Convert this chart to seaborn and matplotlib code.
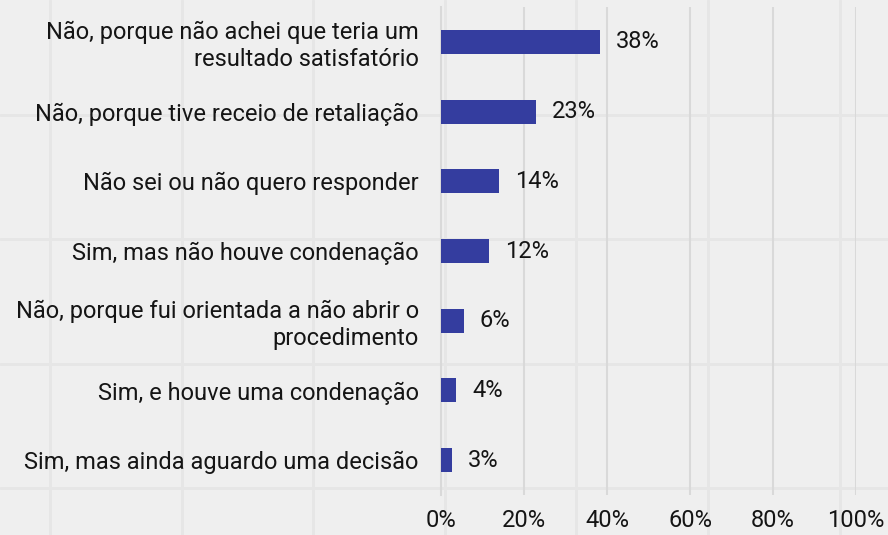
import matplotlib
matplotlib.use("Agg")
import matplotlib.pyplot as plt
import seaborn as sns
import pandas as pd
import numpy as np
from matplotlib.lines import Line2D

categories = [
    "Não, porque não achei que teria um\nresultado satisfatório",
    "Não, porque tive receio de retaliação",
    "Não sei ou não quero responder",
    "Sim, mas não houve condenação",
    "Não, porque fui orientada a não abrir o\nprocedimento",
    "Sim, e houve uma condenação",
    "Sim, mas ainda aguardo uma decisão",
]
values = [38.3, 22.9, 14, 11.5, 5.5, 3.7, 2.6]
value_labels = ["38%", "23%", "14%", "12%", "6%", "4%", "3%"]
xticks = [0, 20, 40, 60, 80, 100]
xtick_labels = ["0%", "20%", "40%", "60%", "80%", "100%"]

df = pd.DataFrame({"cat": categories, "val": values})

sns.set_theme(style="white")
plt.rcParams["font.family"] = ["Roboto", "DejaVu Sans"]

FS = 17
BG = "#efefef"
TXT = "#151515"
fig = plt.figure(figsize=(8.88, 5.35), dpi=100, facecolor=BG)
ax = fig.add_axes([441 / 888, 1 - 495 / 535, (856 - 441) / 888, (495 - 7) / 535])
ax.set_facecolor("none")

# faint background pattern of the page
for xp in np.arange(50, 888, 131.6):
    fig.add_artist(Line2D([xp / 888, xp / 888], [0, 1], transform=fig.transFigure,
                          color="#e6e6e6", lw=2, zorder=-5))
for yp in np.arange(115, 535, 124.4):
    fig.add_artist(Line2D([0, 1], [1 - yp / 535, 1 - yp / 535], transform=fig.transFigure,
                          color="#e6e6e6", lw=2, zorder=-5))

sns.barplot(data=df, y="cat", x="val", orient="h", color="#343d9f", width=0.345,
            saturation=1, linewidth=0, ax=ax, zorder=3)

ax.set_xlim(0, 100)
ax.set_ylim(6.5, -0.5)
ax.set_xticks(xticks)
ax.set_xticklabels(xtick_labels)
ax.xaxis.grid(True, color="#d9d9d9", lw=1.5, zorder=0)
ax.yaxis.grid(False)
for s in ["top", "right", "bottom"]:
    ax.spines[s].set_visible(False)
ax.spines["left"].set_color("#d9d9d9")
ax.spines["left"].set_linewidth(1.5)
ax.set_xlabel("")
ax.set_ylabel("")
ax.tick_params(axis="y", length=0, pad=16, labelsize=FS, labelcolor=TXT)
ax.tick_params(axis="x", length=0, pad=10, labelsize=FS, labelcolor=TXT)
for t in ax.get_yticklabels():
    t.set_multialignment("right")
    t.set_linespacing(1.2)

for i, (v, lab) in enumerate(zip(values, value_labels)):
    ax.annotate(lab, xy=(v, i), xytext=(11.5, 0), textcoords="offset points",
                va="center", ha="left", fontsize=FS, color=TXT)

fig.savefig("out.png", dpi=100, facecolor=BG)
